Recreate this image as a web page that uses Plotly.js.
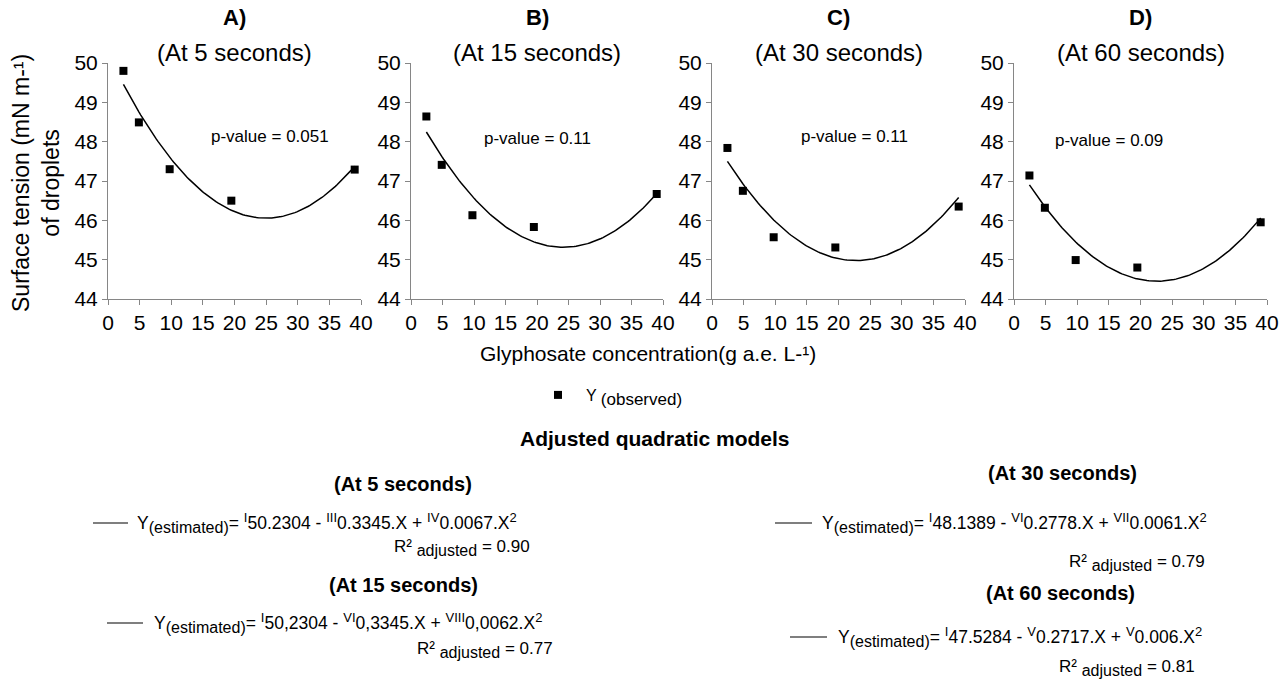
<!DOCTYPE html>
<html>
<head>
<meta charset="utf-8">
<script src="https://cdn.plot.ly/plotly-3.0.1.min.js"></script>
<style>html,body{margin:0;padding:0;background:#fff;}#chart{width:1279px;height:682px;}</style>
</head>
<body>
<div id="chart"></div>
<script>
// ---- data ----
const concentration = [2.44, 4.88, 9.75, 19.5, 39];          // g a.e. L-1
const observedA = [49.80, 48.49, 47.30, 46.50, 47.29];       // at 5 s
const observedB = [48.64, 47.41, 46.13, 45.83, 46.67];       // at 15 s
const observedC = [47.84, 46.75, 45.57, 45.31, 46.35];       // at 30 s
const observedD = [47.14, 46.32, 44.99, 44.80, 45.95];       // at 60 s
// quadratic model coefficients (panel B; its printed equation repeats panel A)
const interceptCoef = [50.2304, 48.94, 48.1389, 47.5284];
const linearCoef    = [-0.3345, -0.2998, -0.2778, -0.2717];
const quadCoef      = [0.0067, 0.0062, 0.0061, 0.006];
const panelLetters = ['A)', 'B)', 'C)', 'D)'];
const panelTimes = ['(At 5 seconds)', '(At 15 seconds)', '(At 30 seconds)', '(At 60 seconds)'];
const pValues = ['0.051', '0.11', '0.11', '0.09'];
const pValuePosX = [25.6, 20.1, 22.45, 15.0];
const pValuePosY = [48.12, 48.09, 48.12, 48.04];
const xTicks = [0, 5, 10, 15, 20, 25, 30, 35, 40];
const yTicks = [44, 45, 46, 47, 48, 49, 50];

const observed = [observedA, observedB, observedC, observedD];

// ---- layout helpers ----
const W = 1279, H = 682;
const px = v => v / W;
const py = v => 1 - v / H;
const panelLeft = [108, 411, 712, 1014];
const panelRight = [361, 663, 965, 1267];
const plotTop = 63, plotBottom = 299;
const FONT = 'Liberation Sans, Arial, sans-serif';
const axisGrey = '#868686';
const small = (t, s) => '<span style="font-size:' + s + 'px">' + t + '</span>';

const traces = [];
const layout = {
  width: W, height: H,
  margin: {l: 0, r: 0, t: 0, b: 0},
  paper_bgcolor: '#fff', plot_bgcolor: '#fff',
  font: {family: FONT, color: '#000'},
  showlegend: true,
  legend: {
    x: px(538), y: py(395), xanchor: 'left', yanchor: 'middle',
    font: {family: FONT, size: 16, color: '#000'},
    bgcolor: 'rgba(0,0,0,0)', borderwidth: 0
  },
  annotations: [],
  shapes: []
};

for (let i = 0; i < 4; i++) {
  const n = i === 0 ? '' : String(i + 1);
  const xa = 'x' + n, ya = 'y' + n;
  // fitted curve from the model coefficients
  const cx = [], cy = [];
  const x0 = concentration[0], x1 = concentration[concentration.length - 1];
  for (let k = 0; k <= 120; k++) {
    const x = x0 + (x1 - x0) * k / 120;
    cx.push(x);
    cy.push(interceptCoef[i] + linearCoef[i] * x + quadCoef[i] * x * x);
  }
  traces.push({
    x: cx, y: cy, xaxis: xa, yaxis: ya, type: 'scatter', mode: 'lines',
    line: {color: '#000', width: 1.5}, showlegend: false, hoverinfo: 'skip'
  });
  traces.push({
    x: concentration, y: observed[i], xaxis: xa, yaxis: ya, type: 'scatter', mode: 'markers',
    marker: {symbol: 'square', size: 8, color: '#000'},
    name: '\u2002Y <sub>' + small('(observed)', 17) + '</sub>', showlegend: i === 0
  });
  const axCommon = {
    showgrid: false, zeroline: false, showline: true, linecolor: axisGrey, linewidth: 1,
    ticks: 'outside', ticklen: 5, tickcolor: axisGrey, tickwidth: 1,
    tickfont: {family: FONT, size: 21, color: '#000'}, fixedrange: true
  };
  layout['xaxis' + n] = Object.assign({}, axCommon, {
    domain: [px(panelLeft[i]), px(panelRight[i])], range: [0, 40],
    tickvals: xTicks, ticktext: xTicks.map(String), anchor: ya
  });
  layout['yaxis' + n] = Object.assign({}, axCommon, {
    domain: [py(plotBottom), py(plotTop)], range: [44, 50],
    tickvals: yTicks, ticktext: yTicks.map(String), anchor: xa
  });
  const cxp = px((panelLeft[i] + panelRight[i]) / 2);
  layout.annotations.push({
    text: '<b>' + panelLetters[i] + '</b>', xref: 'paper', yref: 'paper',
    x: cxp, y: py(18), xanchor: 'center', yanchor: 'middle', showarrow: false,
    font: {family: FONT, size: 22, color: '#000'}
  });
  layout.annotations.push({
    text: panelTimes[i], xref: 'paper', yref: 'paper',
    x: cxp, y: py(52), xanchor: 'center', yanchor: 'middle', showarrow: false,
    font: {family: FONT, size: 24, color: '#000'}
  });
  layout.annotations.push({
    text: 'p-value = ' + pValues[i], xref: xa, yref: ya,
    x: pValuePosX[i], y: pValuePosY[i], xanchor: 'center', yanchor: 'middle', showarrow: false,
    font: {family: FONT, size: 17, color: '#000'}
  });
}

// axis titles
layout.annotations.push({
  text: 'Surface tension (mN m-¹)<br>of droplets', xref: 'paper', yref: 'paper',
  x: px(36), y: py(183), xanchor: 'center', yanchor: 'middle', textangle: -90, showarrow: false,
  font: {family: FONT, size: 23, color: '#000'}
});
layout.annotations.push({
  text: 'Glyphosate concentration(g a.e. L-¹)', xref: 'paper', yref: 'paper',
  x: px(648), y: py(353), xanchor: 'center', yanchor: 'middle', showarrow: false,
  font: {family: FONT, size: 21, color: '#000'}
});
layout.annotations.push({
  text: '<b>Adjusted quadratic models</b>', xref: 'paper', yref: 'paper',
  x: px(655), y: py(438), xanchor: 'center', yanchor: 'middle', showarrow: false,
  font: {family: FONT, size: 21, color: '#000'}
});

// model equations
const eqHeads = ['(At 5 seconds)', '(At 15 seconds)', '(At 30 seconds)', '(At 60 seconds)'];
const est = '<sub>' + small('(estimated)', 16) + '</sub>';
const sp = t => '<sup>' + small(t, 13) + '</sup>';
const eqTexts = [
  'Y' + est + '= ' + sp('I') + '50.2304 - ' + sp('III') + '0.3345.X + ' + sp('IV') + '0.0067.X' + sp('2'),
  'Y' + est + '= ' + sp('I') + '50,2304 - ' + sp('VI') + '0,3345.X + ' + sp('VIII') + '0,0062.X' + sp('2'),
  'Y' + est + '= ' + sp('I') + '48.1389 - ' + sp('VI') + '0.2778.X + ' + sp('VII') + '0.0061.X' + sp('2'),
  'Y' + est + '= ' + sp('I') + '47.5284 - ' + sp('V') + '0.2717.X + ' + sp('V') + '0.006.X' + sp('2')
];
const r2Values = ['0.90', '0.77', '0.79', '0.81'];
const headPos = [[403, 484], [403, 585], [1062, 473], [1060, 593]];
const segPos = [[93, 128, 523], [107, 143, 623], [775, 812, 523], [790, 827, 637]];
const eqPos = [[135, 523], [152, 623], [820, 523], [836, 637]];
const r2Pos = [[532, 548], [555, 650], [1207, 563], [1197, 668]];
for (let i = 0; i < 4; i++) {
  layout.annotations.push({
    text: '<b>' + eqHeads[i] + '</b>', xref: 'paper', yref: 'paper',
    x: px(headPos[i][0]), y: py(headPos[i][1]), xanchor: 'center', yanchor: 'middle', showarrow: false,
    font: {family: FONT, size: 20, color: '#000'}
  });
  layout.shapes.push({
    type: 'line', xref: 'paper', yref: 'paper',
    x0: px(segPos[i][0]), x1: px(segPos[i][1]), y0: py(segPos[i][2]), y1: py(segPos[i][2]),
    line: {color: '#000', width: 1.2}
  });
  layout.annotations.push({
    text: eqTexts[i], xref: 'paper', yref: 'paper',
    x: px(eqPos[i][0]), y: py(eqPos[i][1]), xanchor: 'left', yanchor: 'middle', showarrow: false,
    font: {family: FONT, size: 17.5, color: '#000'}
  });
  layout.annotations.push({
    text: 'R² <sub>' + small('adjusted', 16) + '</sub> = ' + r2Values[i], xref: 'paper', yref: 'paper',
    x: px(r2Pos[i][0]), y: py(r2Pos[i][1]), xanchor: 'right', yanchor: 'middle', showarrow: false,
    font: {family: FONT, size: 17, color: '#000'}
  });
}

Plotly.newPlot('chart', traces, layout, {displayModeBar: false, staticPlot: true});
</script>
</body>
</html>
